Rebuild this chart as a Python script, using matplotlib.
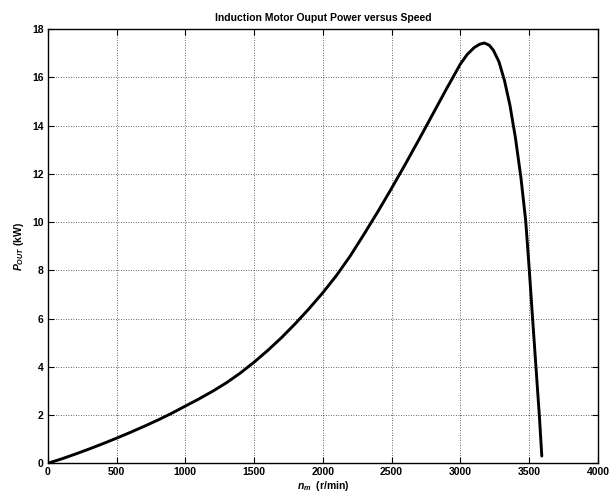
import matplotlib
matplotlib.use("Agg")
import matplotlib.pyplot as plt

# Shaft speed (r/min) and output power (kW)
speed_rpm = [0, 100, 200, 300, 400, 500, 600, 700, 800, 900, 1000, 1100,
             1200, 1300, 1400, 1500, 1600, 1700, 1800, 1900, 2000, 2100, 2200,
             2300, 2400, 2500, 2600, 2700, 2800, 2900, 3000, 3050, 3100, 3140,
             3175, 3210, 3240, 3280, 3320, 3360, 3400, 3440, 3475, 3500, 3525,
             3550, 3575, 3592]
power_kw = [0, 0.18, 0.38, 0.59, 0.81, 1.04, 1.28, 1.53, 1.79, 2.07, 2.37, 2.67,
            2.99, 3.34, 3.74, 4.19, 4.68, 5.21, 5.79, 6.41, 7.07, 7.79, 8.6,
            9.5, 10.43, 11.4, 12.4, 13.43, 14.48, 15.53, 16.55, 16.95, 17.23,
            17.37, 17.42, 17.33, 17.12, 16.65, 15.88, 14.85, 13.5, 11.85, 10.05,
            8.1, 6.0, 3.95, 1.9, 0.3]

x_ticks = [0, 500, 1000, 1500, 2000, 2500, 3000, 3500, 4000]
y_ticks = [0, 2, 4, 6, 8, 10, 12, 14, 16, 18]

plt.rcParams['font.family'] = ['Liberation Sans', 'DejaVu Sans']
plt.rcParams['font.weight'] = 'bold'
plt.rcParams['mathtext.fontset'] = 'custom'
plt.rcParams['mathtext.rm'] = 'Liberation Sans:bold'
plt.rcParams['mathtext.it'] = 'Liberation Sans:italic:bold'
plt.rcParams['mathtext.bf'] = 'Liberation Sans:bold'

fig = plt.figure(figsize=(6.12, 4.98), dpi=100)
ax = fig.add_axes([0.078, 0.0697, 0.899, 0.872])

ax.plot(speed_rpm, power_kw, color='black', linewidth=2.1,
        solid_capstyle='round', solid_joinstyle='round')

ax.set_xlim(0, 4000)
ax.set_ylim(0, 18)
ax.set_xticks(x_ticks)
ax.set_yticks(y_ticks)
ax.tick_params(direction='in', length=4, width=0.8, labelsize=7.5,
               top=True, right=True, pad=3)
for lbl in ax.get_xticklabels() + ax.get_yticklabels():
    lbl.set_fontweight('bold')

ax.grid(True, color='black', linestyle=(0, (1, 2)), linewidth=0.6, alpha=0.8)
for sp in ax.spines.values():
    sp.set_linewidth(1.0)

ax.set_title('Induction Motor Ouput Power versus Speed', fontsize=7.5,
             fontweight='bold', pad=6)
ax.set_xlabel(r'$\it{n}_{\it{m}}$  (r/min)', fontsize=7.5, fontweight='bold', labelpad=1)
ax.set_ylabel(r'$\it{P}_{\it{OUT}}$ (kW)', fontsize=7.5, fontweight='bold', labelpad=4)

fig.savefig('out.png', dpi=100)
